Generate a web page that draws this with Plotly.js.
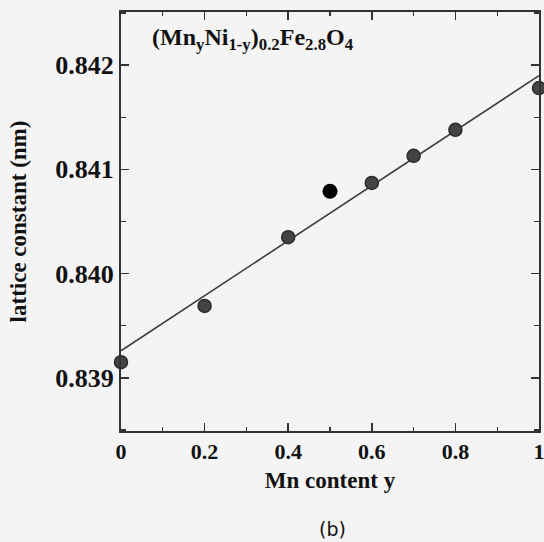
<!DOCTYPE html>
<html>
<head>
<meta charset="utf-8">
<script src="https://cdn.plot.ly/plotly-3.0.1.min.js"></script>
<style>html,body{margin:0;padding:0;background:#f4f4f4;}</style>
</head>
<body>
<div id="chart" style="width:544px;height:542px;"></div>
<script>
// Measured data (Mn content y vs lattice constant, nm)
const mnContent = [0, 0.2, 0.4, 0.6, 0.7, 0.8, 1.0];
const latticeConst = [0.83915, 0.83969, 0.84035, 0.84087, 0.84113, 0.84138, 0.84178];
// Highlighted point
const highlightX = [0.5];
const highlightY = [0.84079];
// Linear fit line endpoints
const fitX = [0, 1];
const fitY = [0.83926, 0.84190];

const xTickVals = [0, 0.2, 0.4, 0.6, 0.8, 1];
const xTickText = ['0', '0.2', '0.4', '0.6', '0.8', '1'];
const yTickVals = [0.839, 0.840, 0.841, 0.842];
const yTickText = ['0.839', '0.840', '0.841', '0.842'];

const serif = 'Liberation Serif, Times New Roman, serif';

const traces = [
  {x: fitX, y: fitY, mode: 'lines', line: {color: '#3c3c3c', width: 1.6}, hoverinfo: 'skip', showlegend: false},
  {x: mnContent, y: latticeConst, mode: 'markers', cliponaxis: false,
   marker: {size: 13, color: '#444444', line: {color: '#2a2a2a', width: 1.5}}, showlegend: false},
  {x: highlightX, y: highlightY, mode: 'markers', cliponaxis: false,
   marker: {size: 15, color: '#000000'}, showlegend: false}
];

const layout = {
  width: 544, height: 542,
  margin: {l: 121, r: 5, t: 12, b: 111},
  paper_bgcolor: '#f4f4f4',
  plot_bgcolor: '#f4f4f4',
  font: {family: serif, color: '#111'},
  xaxis: {
    range: [0, 1],
    tickvals: xTickVals, ticktext: xTickText,
    ticklabeloverflow: 'allow',
    ticks: 'inside', ticklen: 8, tickwidth: 1.5, tickcolor: '#333',
    minor: {dtick: 0.1, ticks: 'inside', ticklen: 4, tickwidth: 1.2, tickcolor: '#333'},
    showline: true, linecolor: '#333', linewidth: 2, mirror: 'allticks',
    showgrid: false, zeroline: false,
    tickfont: {family: serif, size: 22, color: '#111', weight: 'bold'},
    title: {text: '<b>Mn content y</b>', font: {family: serif, size: 23, color: '#111'}, standoff: 8}
  },
  yaxis: {
    range: [0.83849, 0.84251],
    tickvals: yTickVals, ticktext: yTickText,
    ticklabeloverflow: 'allow',
    ticks: 'inside', ticklen: 8, tickwidth: 1.5, tickcolor: '#333',
    minor: {dtick: 0.0005, tick0: 0.839, ticks: 'inside', ticklen: 5, tickwidth: 1.2, tickcolor: '#333'},
    showline: true, linecolor: '#333', linewidth: 2, mirror: 'allticks',
    showgrid: false, zeroline: false,
    tickfont: {family: serif, size: 26, color: '#111', weight: 'bold'},
    title: {text: '<b>lattice constant (nm)</b>', font: {family: serif, size: 23, color: '#111'}, standoff: 22}
  },
  annotations: [
    {xref: 'paper', yref: 'paper', x: 0.07, y: 0.975, xanchor: 'left', yanchor: 'top', showarrow: false,
     text: '<b>(Mn<sub>y</sub>Ni<sub>1-y</sub>)<sub>0.2</sub>Fe<sub>2.8</sub>O<sub>4</sub></b>',
     font: {family: serif, size: 24, color: '#111'}},
    {xref: 'paper', yref: 'paper', x: 0.505, y: -0.235, xanchor: 'center', yanchor: 'middle', showarrow: false,
     text: '(b)', font: {family: 'DejaVu Sans, sans-serif', size: 19, color: '#111'}}
  ]
};

Plotly.newPlot('chart', traces, layout, {staticPlot: true, displayModeBar: false});
</script>
</body>
</html>
